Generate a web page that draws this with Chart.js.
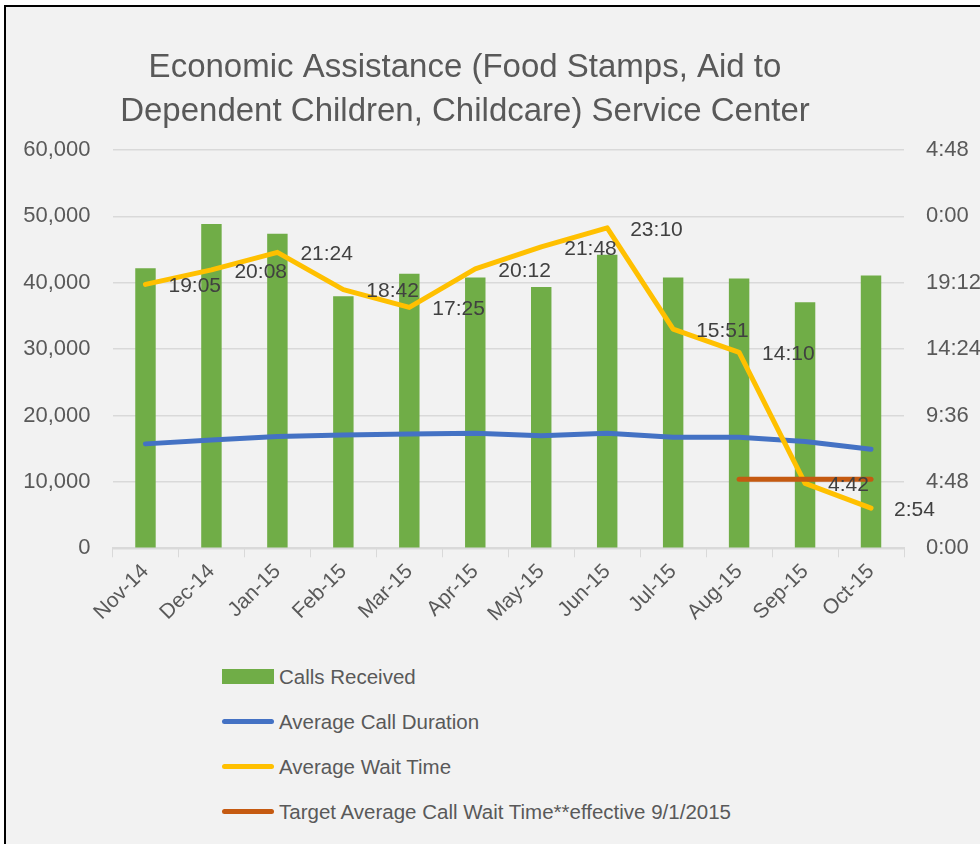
<!DOCTYPE html>
<html>
<head>
<meta charset="utf-8">
<script src="https://cdn.jsdelivr.net/npm/chart.js@4.4.1/dist/chart.umd.min.js"></script>
<style>
  html, body { margin: 0; padding: 0; background: #fff; }
  #frame { position: absolute; left: 4px; top: 5px; width: 976px; height: 839px; box-sizing: border-box;
           border-left: 2px solid #000; border-top: 2px solid #000; background: #f2f2f2; }
  #wrap { position: absolute; left: 0; top: 0; width: 980px; height: 650px; }
  #legend { position: absolute; left: 222px; top: 654px; font-family: "Liberation Sans", Arial, sans-serif;
            font-size: 20.5px; color: #595959; }
  .row { height: 45px; display: flex; align-items: center; }
  .sym { width: 52px; margin-right: 5px; }
</style>
</head>
<body>
<div id="frame"></div>
<div id="wrap"><canvas id="chart" width="980" height="650"></canvas></div>
<div id="legend"></div>
<script>
const months = ["Nov-14", "Dec-14", "Jan-15", "Feb-15", "Mar-15", "Apr-15", "May-15", "Jun-15", "Jul-15", "Aug-15", "Sep-15", "Oct-15"];
const callsReceived = [42200, 48850, 47400, 37950, 41350, 40800, 39350, 44200, 40800, 40650, 37050, 41100];
const callDuration = ["7:33", "7:50", "8:05", "8:11", "8:16", "8:19", "8:08", "8:19", "8:02", "8:02", "7:43", "7:10"];
const waitTimes = ["19:05", "20:08", "21:24", "18:42", "17:25", "20:12", "21:48", "23:10", "15:51", "14:10", "4:42", "2:54"];
const targetWait = [null, null, null, null, null, null, null, null, null, "5:00", "5:00", "5:00"];

// "m:ss" -> seconds
function toSec(t) {
    if (t === null) return null;
    const p = t.split(":");
    return parseInt(p[0]) * 60 + parseInt(p[1]);
}

// seconds -> clock text, wraps at 24 like the excel h:mm format
function toClock(sec) {
    const m = Math.floor(sec / 60) % 24;
    const s = Math.round(sec % 60);
    return m + ":" + String(s).padStart(2, "0");
}

const waitLabels = {
    id: "waitLabels",
    afterLayout(chart) {
        // excel centres the title a bit left of the canvas middle
        if (chart.titleBlock) chart.titleBlock.right = 930;
    },
    afterDatasetsDraw(chart) {
        const meta = chart.getDatasetMeta(2);
        const ctx = chart.ctx;
        ctx.save();
        ctx.font = '21px "Liberation Sans", Arial, sans-serif';
        ctx.fillStyle = "#404040";
        ctx.textAlign = "left";
        ctx.textBaseline = "middle";
        meta.data.forEach((pt, i) => {
            ctx.fillText(waitTimes[i], pt.x + 23, pt.y + 2);
        });
        ctx.restore();
    }
};

Chart.defaults.font.family = '"Liberation Sans", Arial, sans-serif';
Chart.defaults.color = "#595959";

const lineStyle = {
    type: "line",
    yAxisID: "y1",
    borderWidth: 5,
    pointRadius: 0,
    tension: 0,
    borderCapStyle: "round",
    borderJoinStyle: "round",
    fill: false
};

const chart = new Chart(document.getElementById("chart"), {
    type: "bar",
    data: {
        labels: months,
        datasets: [
            {
                label: "Calls Received",
                data: callsReceived,
                backgroundColor: "#70ad47",
                yAxisID: "y",
                barPercentage: 0.31,
                categoryPercentage: 1,
                order: 4
            },
            Object.assign({}, lineStyle, {
                label: "Average Call Duration",
                data: callDuration.map(toSec),
                borderColor: "#4472c4",
                order: 3
            }),
            Object.assign({}, lineStyle, {
                label: "Average Wait Time",
                data: waitTimes.map(toSec),
                borderColor: "#ffc000",
                order: 2
            }),
            Object.assign({}, lineStyle, {
                label: "Target Average Call Wait Time**effective 9/1/2015",
                data: targetWait.map(toSec),
                borderColor: "#c55a11",
                order: 1
            })
        ]
    },
    options: {
        responsive: false,
        animation: false,
        layout: { padding: 0 },
        plugins: {
            legend: { display: false },
            tooltip: { enabled: false },
            title: {
                display: true,
                text: ["Economic Assistance (Food Stamps, Aid to", "Dependent Children, Childcare) Service Center"],
                color: "#595959",
                font: { size: 33, weight: "normal", lineHeight: 1.333 },
                padding: { top: 46, bottom: 16 }
            }
        },
        scales: {
            x: {
                grid: { drawOnChartArea: false, color: "#d9d9d9", tickLength: 9, offset: true },
                border: { color: "#d9d9d9", width: 2 },
                ticks: { minRotation: 45, maxRotation: 45, font: { size: 21 }, padding: 2 },
                afterFit(s) { s.height = 101.7; }
            },
            y: {
                position: "left",
                min: 0,
                max: 60000,
                ticks: { stepSize: 10000, font: { size: 22 }, padding: 22 },
                grid: { color: "#d9d9d9", drawTicks: false, lineWidth: 1.5 },
                border: { display: false },
                afterFit(s) { s.width = 112.5; }
            },
            y1: {
                position: "right",
                min: 0,
                max: 1728,
                ticks: { stepSize: 288, font: { size: 22 }, padding: 22, callback: v => toClock(v) },
                grid: { drawOnChartArea: false, drawTicks: false },
                border: { display: false },
                afterFit(s) { s.width = 76; }
            }
        }
    },
    plugins: [waitLabels]
});

// legend below the chart, built from the datasets
const legendDiv = document.getElementById("legend");
chart.data.datasets.forEach(ds => {
    const row = document.createElement("div");
    row.className = "row";
    const sym = document.createElement("div");
    sym.className = "sym";
    if (ds.type === "line") {
        sym.style.height = "5px";
        sym.style.borderRadius = "3px";
        sym.style.background = ds.borderColor;
    } else {
        sym.style.height = "15px";
        sym.style.background = ds.backgroundColor;
    }
    const txt = document.createElement("span");
    txt.textContent = ds.label;
    row.appendChild(sym);
    row.appendChild(txt);
    legendDiv.appendChild(row);
});
</script>
</body>
</html>
